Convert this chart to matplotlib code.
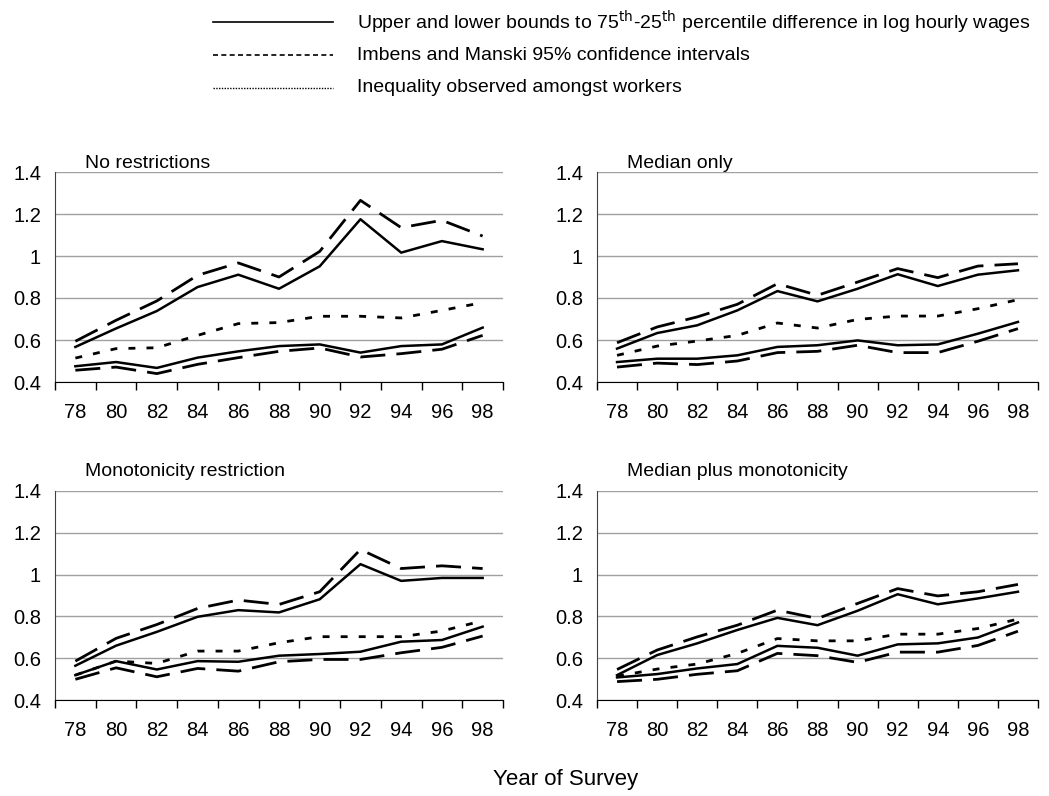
import matplotlib.pyplot as plt
from matplotlib.lines import Line2D

plt.rcParams['font.family'] = ['Liberation Sans', 'DejaVu Sans']

years = ["78", "80", "82", "84", "86", "88", "90", "92", "94", "96", "98"]

# No restrictions
nr_upper = [0.567, 0.655, 0.738, 0.852, 0.911, 0.844, 0.951, 1.175, 1.016, 1.071, 1.032]
nr_upper_ci = [0.594, 0.694, 0.786, 0.908, 0.967, 0.900, 1.022, 1.265, 1.135, 1.170, 1.095]
nr_obs = [0.514, 0.559, 0.563, 0.622, 0.678, 0.683, 0.713, 0.713, 0.705, 0.741, 0.778]
nr_lower = [0.475, 0.495, 0.467, 0.516, 0.546, 0.571, 0.579, 0.540, 0.571, 0.579, 0.659]
nr_lower_ci = [0.456, 0.471, 0.440, 0.484, 0.516, 0.546, 0.562, 0.519, 0.535, 0.556, 0.622]

# Median only
md_upper = [0.559, 0.633, 0.670, 0.741, 0.833, 0.784, 0.844, 0.913, 0.857, 0.911, 0.932]
md_upper_ci = [0.587, 0.662, 0.710, 0.770, 0.868, 0.813, 0.876, 0.940, 0.897, 0.952, 0.963]
md_obs = [0.527, 0.571, 0.595, 0.622, 0.681, 0.657, 0.698, 0.714, 0.714, 0.749, 0.792]
md_lower = [0.495, 0.511, 0.511, 0.527, 0.567, 0.575, 0.598, 0.575, 0.579, 0.630, 0.686]
md_lower_ci = [0.471, 0.490, 0.483, 0.500, 0.540, 0.546, 0.575, 0.540, 0.540, 0.594, 0.654]

# Monotonicity restriction
mo_upper = [0.564, 0.660, 0.726, 0.798, 0.830, 0.819, 0.882, 1.050, 0.970, 0.984, 0.984]
mo_upper_ci = [0.586, 0.695, 0.761, 0.838, 0.878, 0.857, 0.918, 1.120, 1.029, 1.042, 1.029]
mo_obs = [0.519, 0.586, 0.575, 0.634, 0.634, 0.674, 0.703, 0.703, 0.703, 0.730, 0.779]
mo_lower = [0.519, 0.586, 0.546, 0.586, 0.583, 0.612, 0.620, 0.631, 0.679, 0.687, 0.751]
mo_lower_ci = [0.499, 0.554, 0.511, 0.551, 0.538, 0.583, 0.594, 0.594, 0.626, 0.652, 0.706]

# Median plus monotonicity
mm_upper = [0.519, 0.615, 0.671, 0.735, 0.793, 0.758, 0.827, 0.906, 0.858, 0.886, 0.918]
mm_upper_ci = [0.546, 0.639, 0.702, 0.758, 0.830, 0.790, 0.862, 0.933, 0.898, 0.918, 0.953]
mm_obs = [0.514, 0.548, 0.572, 0.623, 0.694, 0.683, 0.683, 0.715, 0.715, 0.742, 0.787]
mm_lower = [0.508, 0.524, 0.551, 0.572, 0.659, 0.650, 0.612, 0.666, 0.671, 0.699, 0.771]
mm_lower_ci = [0.488, 0.499, 0.523, 0.540, 0.623, 0.612, 0.580, 0.629, 0.629, 0.661, 0.729]

panels = [
    ("No restrictions", nr_upper, nr_upper_ci, nr_obs, nr_lower, nr_lower_ci),
    ("Median only", md_upper, md_upper_ci, md_obs, md_lower, md_lower_ci),
    ("Monotonicity restriction", mo_upper, mo_upper_ci, mo_obs, mo_lower, mo_lower_ci),
    ("Median plus monotonicity", mm_upper, mm_upper_ci, mm_obs, mm_lower, mm_lower_ci),
]

W, H = 1049, 796
fig = plt.figure(figsize=(W / 100, H / 100), dpi=100)

# axes boxes in pixels: left, right, top, bottom, title y
boxes = [(55, 503, 172, 382, 163), (597, 1038, 172, 382, 163),
         (55, 503, 491, 700, 471), (597, 1038, 491, 700, 471)]

x = list(range(len(years)))
for (title, up, upci, obs, lo, loci), (l, r, t, b, ty) in zip(panels, boxes):
    ax = fig.add_axes([l / W, 1 - b / H, (r - l) / W, (b - t) / H])
    ax.plot(x, upci, color='black', lw=2, dashes=(9, 4))
    ax.plot(x, loci, color='black', lw=2, dashes=(9, 4))
    ax.plot(x, obs, color='black', lw=2, dashes=(2.5, 4))
    ax.plot(x, up, color='black', lw=1.8)
    ax.plot(x, lo, color='black', lw=1.8)
    ax.set_xlim(-0.5, len(years) - 0.5)
    ax.set_ylim(0.4, 1.4)
    ax.set_yticks([0.4, 0.6, 0.8, 1.0, 1.2, 1.4])
    ax.set_yticklabels(["0.4", "0.6", "0.8", "1", "1.2", "1.4"], fontsize=14.5)
    ax.yaxis.grid(True, color='#a0a0a0', lw=1)
    ax.set_axisbelow(True)
    ax.tick_params(axis='y', length=0, pad=10)
    ax.set_xticks([i - 0.5 for i in range(len(years) + 1)])
    ax.set_xticklabels([])
    ax.set_xticks(x, minor=True)
    ax.set_xticklabels(years, minor=True, fontsize=14.5)
    ax.tick_params(axis='x', which='major', length=6, width=1, direction='out')
    ax.tick_params(axis='x', which='minor', length=0, pad=15)
    ax.spines['top'].set_visible(False)
    ax.spines['right'].set_visible(False)
    ax.spines['left'].set_color('#404040')
    ax.spines['bottom'].set_color('black')
    fig.text((l + 30) / W, 1 - ty / H, title, fontsize=14, va='center', ha='left')

# legend drawn at the top
legend_items = [
    ("Upper and lower bounds to 75$^{\\mathrm{th}}$-25$^{\\mathrm{th}}$ percentile difference in log hourly wages",
     dict(ls='-', lw=1.2)),
    ("Imbens and Manski 95% confidence intervals", dict(ls=(0, (3, 2)), lw=1.2)),
    ("Inequality observed amongst workers", dict(ls=(0, (1, 1)), lw=1.0)),
]
for i, (label, style) in enumerate(legend_items):
    yy = 1 - (22 + 33 * i) / H
    fig.add_artist(Line2D([213 / W, 333 / W], [yy, yy], color='black', **style))
    fig.text(357 / W, yy, label, fontsize=14, va='center', ha='left')

fig.text(566 / W, 1 - 779 / H, "Year of Survey", fontsize=16, ha='center', va='center')

fig.savefig("out.png", dpi=100)
